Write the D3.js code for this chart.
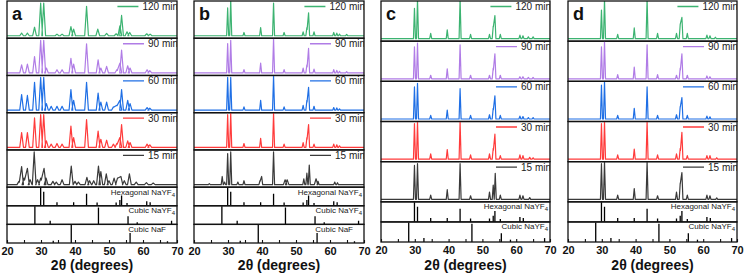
<!DOCTYPE html>
<html>
<head>
<meta charset="utf-8">
<script src="https://cdn.jsdelivr.net/npm/d3@7"></script>
<style>
  body { margin: 0; background: #fff; }
  svg { display: block; }
  text { font-family: Arial, "Liberation Sans", sans-serif; }
</style>
</head>
<body>
<svg id="chart" width="744" height="273"></svg>
<script>
// ---- data ----
var times = ["120 min", "90 min", "60 min", "30 min", "15 min"];
var colors = ["#3cb371", "#b07ce6", "#1f6fe5", "#ff3b3b", "#3a3a3a"];
var xTicks = [20, 25, 30, 35, 40, 45, 50, 55, 60, 65, 70];

// reference patterns: [2theta, relative intensity]
var hexRef = [[29.9, 1.0], [30.8, 0.78], [34.7, 0.2], [39.6, 0.2], [43.4, 0.67], [46.5, 0.18],
  [52.1, 0.18], [53.2, 0.32], [53.7, 0.56], [55.3, 0.15], [61.1, 0.25], [62.1, 0.2]];
var cubicRef = [[28.2, 1.0], [32.7, 0.2], [46.9, 0.93], [55.6, 0.45], [58.3, 0.12], [68.4, 0.2]];
var nafRef = [[33.6, 0.12], [38.9, 1.0], [56.2, 0.55], [67.2, 0.1]];

// measured patterns: [2theta, relative height, (half width)]
var a120 = [[24.3, 0.08], [26.0, 0.08], [28.1, 0.26], [29.9, 1.0], [30.8, 1.0], [34.7, 0.05], [36.2, 0.05],
  [38.8, 0.28], [39.6, 0.2], [43.4, 0.9], [46.7, 0.2], [49.3, 0.07], [52.1, 0.06], [53.2, 0.3], [53.7, 0.62],
  [55.3, 0.12], [56.1, 0.1], [61.1, 0.06], [62.1, 0.05]];
var a90 = [[24.3, 0.25], [26.0, 0.27], [28.1, 0.5], [29.9, 1.0], [30.8, 1.0], [31.6, 0.15], [34.7, 0.1],
  [36.2, 0.1], [38.8, 0.45], [39.6, 0.27], [43.4, 0.89], [46.8, 0.4], [47.6, 0.15], [49.3, 0.2], [52.3, 0.1],
  [53.2, 0.3], [53.7, 0.7], [55.5, 0.22], [56.2, 0.15], [61.2, 0.1], [62.0, 0.07]];
var a60 = [[24.3, 0.48], [26.0, 0.45], [28.1, 0.85], [29.9, 1.0], [30.8, 1.0], [31.6, 0.2], [33.0, 0.12],
  [34.7, 0.12], [36.2, 0.12], [38.8, 0.63], [39.6, 0.3], [43.4, 0.85], [46.8, 0.52], [47.6, 0.25],
  [49.3, 0.25], [51.3, 0.1], [52.3, 0.15], [53.2, 0.3], [53.7, 0.63], [55.5, 0.3], [56.2, 0.2],
  [61.2, 0.08], [62.0, 0.06]];
var a30 = [[24.3, 0.45], [26.0, 0.45], [28.1, 0.9], [29.9, 1.0], [30.8, 1.0], [31.6, 0.2], [33.0, 0.1],
  [34.7, 0.12], [36.2, 0.1], [38.8, 0.65], [39.6, 0.3], [43.4, 0.85], [46.8, 0.5], [47.6, 0.25],
  [49.3, 0.22], [51.3, 0.1], [52.3, 0.12], [53.2, 0.3], [53.7, 0.7], [55.5, 0.2], [56.2, 0.15],
  [61.2, 0.1], [62.0, 0.08]];
var a15 = [[23.5, 0.1], [24.3, 0.55], [25.0, 0.2], [26.0, 0.5], [26.8, 0.15], [28.0, 1.0], [29.0, 0.15],
  [29.9, 0.2], [30.9, 0.5], [31.5, 0.2], [33.5, 0.1], [34.5, 0.08], [36.2, 0.15], [38.9, 0.57], [40.0, 0.1],
  [41.0, 0.08], [43.5, 0.22], [44.3, 0.12], [45.5, 0.12], [46.9, 0.57], [47.6, 0.4], [49.2, 0.33],
  [50.0, 0.12], [51.5, 0.2], [52.5, 0.2], [53.5, 0.25], [54.5, 0.12], [56.0, 0.33], [58.0, 0.08],
  [61.0, 0.06], [63.0, 0.05]];

var b120 = [[29.9, 0.85], [30.8, 1.1], [34.7, 0.1], [39.6, 0.25], [43.4, 1.0], [46.5, 0.1], [52.1, 0.12],
  [53.2, 0.25], [53.7, 0.7], [55.3, 0.12], [61.1, 0.1], [62.0, 0.08], [62.8, 0.05], [64.9, 0.04]];
var b90 = [[29.9, 0.9], [30.8, 1.0], [34.7, 0.1], [39.6, 0.3], [43.4, 1.05], [46.5, 0.1], [52.1, 0.15],
  [53.2, 0.25], [53.7, 0.75], [55.3, 0.12], [61.1, 0.1], [62.0, 0.08], [62.8, 0.05], [64.9, 0.04]];
var b60 = [[29.9, 1.0], [30.8, 1.0], [34.7, 0.1], [39.6, 0.3], [43.4, 1.05], [46.5, 0.1], [52.1, 0.15],
  [53.2, 0.3], [53.7, 0.7], [55.3, 0.12], [61.1, 0.08], [62.0, 0.07], [62.8, 0.04]];
var b30 = [[29.9, 1.0], [30.8, 1.05], [34.7, 0.12], [39.6, 0.28], [43.4, 1.05], [46.5, 0.1], [52.1, 0.15],
  [53.2, 0.3], [53.7, 0.7], [55.3, 0.1], [61.1, 0.1], [62.0, 0.08], [62.8, 0.05]];
var b15 = [[24.5, 0.03], [28.3, 0.25], [29.0, 0.08], [29.9, 0.95], [30.8, 1.0], [32.9, 0.08], [34.7, 0.12],
  [39.4, 0.12], [39.9, 0.25], [43.4, 1.0], [46.8, 0.15, 0.5], [47.4, 0.15, 0.5], [52.3, 0.18], [53.2, 0.35],
  [53.9, 0.6], [55.9, 0.18, 0.5], [56.5, 0.1], [61.4, 0.08], [62.2, 0.06]];

var c120 = [[29.9, 0.85], [30.8, 1.1], [34.7, 0.15], [39.6, 0.25], [43.4, 1.1], [46.5, 0.12], [52.1, 0.12],
  [53.2, 0.35], [53.7, 0.65], [55.3, 0.12], [61.1, 0.1], [62.0, 0.08], [63.6, 0.05], [65.0, 0.05]];
var c90 = [[29.9, 0.9], [30.8, 1.0], [34.7, 0.1], [39.6, 0.28], [43.4, 0.95], [46.5, 0.1], [52.1, 0.1],
  [53.2, 0.3], [53.7, 0.7], [55.3, 0.1], [61.1, 0.06], [62.0, 0.06], [63.6, 0.04], [65.0, 0.04]];
var c60 = [[29.9, 0.9], [30.8, 1.0], [34.7, 0.1], [39.6, 0.25], [43.4, 0.85], [46.5, 0.1], [52.1, 0.12],
  [53.2, 0.3], [53.7, 0.65], [55.3, 0.1], [61.1, 0.08], [62.0, 0.07], [63.6, 0.04], [65.0, 0.04]];
var c30 = [[29.9, 1.0], [30.8, 1.05], [34.7, 0.15], [39.6, 0.27], [43.4, 1.05], [46.5, 0.12], [52.1, 0.15],
  [53.2, 0.3], [53.7, 0.7], [55.3, 0.1], [61.1, 0.12], [62.0, 0.1], [64.0, 0.05], [65.0, 0.04]];
var c15 = [[29.9, 0.95], [30.8, 1.0], [34.7, 0.12], [39.6, 0.27], [43.4, 1.0], [46.5, 0.1], [52.1, 0.2],
  [53.2, 0.4], [53.8, 0.73], [55.3, 0.12], [61.1, 0.12], [62.0, 0.1], [64.0, 0.05]];

var d120 = [[29.9, 0.8], [30.8, 1.1], [34.7, 0.12], [39.6, 0.3], [43.4, 1.1], [46.5, 0.15], [52.1, 0.15],
  [53.2, 0.4], [53.7, 0.6], [55.3, 0.15], [61.1, 0.1], [62.0, 0.08], [63.6, 0.04]];
var d90 = [[29.9, 0.9], [30.8, 1.05], [34.7, 0.12], [39.6, 0.33], [43.4, 0.95], [46.5, 0.12], [52.1, 0.1],
  [53.2, 0.3], [53.7, 0.7], [55.3, 0.1], [61.1, 0.08], [62.0, 0.06]];
var d60 = [[29.9, 0.95], [30.8, 1.05], [34.7, 0.1], [39.6, 0.3], [43.4, 0.9], [46.5, 0.1], [52.1, 0.12],
  [53.2, 0.35], [53.7, 0.6], [55.3, 0.1], [61.1, 0.08], [62.0, 0.06]];
var d30 = [[29.9, 1.0], [30.8, 1.05], [34.7, 0.12], [39.6, 0.28], [43.4, 1.05], [46.5, 0.12], [52.1, 0.15],
  [53.2, 0.3], [53.7, 0.75], [55.3, 0.1], [61.1, 0.1], [62.0, 0.1], [64.0, 0.04]];
var d15 = [[29.9, 1.0], [30.8, 1.05], [34.7, 0.12], [39.6, 0.3], [43.4, 1.05], [46.5, 0.1], [52.1, 0.2],
  [53.2, 0.45], [53.7, 0.75], [55.3, 0.12], [61.1, 0.12], [62.0, 0.1], [64.0, 0.04]];

// ---- layout ----
var panels = [
  { letter: "a", x0: 7, x1: 177, bottom: 243, pats: [a120, a90, a60, a30, a15], refs: [hexRef, cubicRef, nafRef], hw: 0.55 },
  { letter: "b", x0: 194, x1: 364, bottom: 243, pats: [b120, b90, b60, b30, b15], refs: [hexRef, cubicRef, nafRef], hw: 0.3 },
  { letter: "c", x0: 381, x1: 550, bottom: 242, pats: [c120, c90, c60, c30, c15], refs: [hexRef, cubicRef], hw: 0.3 },
  { letter: "d", x0: 568, x1: 737, bottom: 242, pats: [d120, d90, d60, d30, d15], refs: [hexRef, cubicRef], hw: 0.3 }
];
var refLabels = [["Hexagonal NaYF", "4"], ["Cubic NaYF", "4"], ["Cubic NaF", ""]];
var top0 = 1;

var svg = d3.select("#chart");
var defs = svg.append("defs");

// outline of triangular peaks; where two peaks overlap the line meets at the crossing of their flanks
function profile(peaks, hw) {
  var pk = peaks.slice().sort(function(a, b) { return a[0] - b[0]; });
  var pts = [[20, 0]];
  var prevFoot = null;
  pk.forEach(function(p, k) {
    var w = p[2] || hw;
    var left = [p[0] - w, 0];
    if (prevFoot) {
      var q = pk[k - 1], wq = q[2] || hw;
      if (prevFoot[0] > left[0]) {
        // right flank of q meets left flank of p
        var s1 = -q[1] / wq, s2 = p[1] / w;
        var xi = (s2 * left[0] - q[1] - s1 * q[0]) / (s2 - s1);
        if (xi > q[0] && xi < p[0]) pts.push([xi, q[1] + s1 * (xi - q[0])]);
        else pts.push(prevFoot, left);
      } else {
        pts.push(prevFoot, left);
      }
    } else {
      pts.push(left);
    }
    pts.push([p[0], p[1]]);
    prevFoot = [p[0] + w, 0];
  });
  pts.push(prevFoot, [70, 0]);
  return pts;
}

panels.forEach(function(P, pi) {
  var g = svg.append("g");
  var nRef = P.refs.length;
  var u = (P.bottom - top0) / (10 + nRef);
  var x = d3.scaleLinear().domain([20, 70]).range([P.x0, P.x1]);

  var rows = [];
  for (var i = 0; i < 5; i++) rows.push({ t: top0 + 2 * u * i, b: top0 + 2 * u * (i + 1), kind: "pat", i: i });
  for (var j = 0; j < nRef; j++) rows.push({ t: top0 + 10 * u + u * j, b: top0 + 10 * u + u * (j + 1), kind: "ref", i: j });

  rows.forEach(function(r, ri) {
    var cid = "clip" + pi + "_" + ri;
    defs.append("clipPath").attr("id", cid)
      .append("rect").attr("x", P.x0).attr("y", r.t).attr("width", P.x1 - P.x0).attr("height", r.b - r.t);
    var rg = g.append("g").attr("clip-path", "url(#" + cid + ")");

    if (r.kind === "pat") {
      var y = d3.scaleLinear().domain([0, 1]).range([r.b - 2.5, r.t + 2]);
      var line = d3.line().x(function(d) { return x(d[0]); }).y(function(d) { return y(d[1]); });
      rg.append("path")
        .datum(profile(P.pats[r.i], P.hw))
        .attr("d", line)
        .attr("fill", "none")
        .attr("stroke", colors[r.i])
        .attr("stroke-width", 1.2)
        .attr("stroke-linejoin", "round");

      // legend
      var lt = rg.append("text")
        .attr("x", P.x1 + 1)
        .attr("y", r.t + 9)
        .attr("text-anchor", "end")
        .style("font-size", "10px")
        .attr("fill", "#222")
        .text(times[r.i]);
      var tx = P.x1 + 1 - lt.node().getComputedTextLength();
      rg.append("line")
        .attr("x1", tx - 25).attr("x2", tx - 4)
        .attr("y1", r.t + 5.5).attr("y2", r.t + 5.5)
        .attr("stroke", colors[r.i]).attr("stroke-width", 1.3);
    } else {
      var ys = d3.scaleLinear().domain([0, 1]).range([r.b, r.t + 0.5]);
      rg.selectAll("line.stick")
        .data(P.refs[r.i])
        .enter().append("line")
        .attr("class", "stick")
        .attr("x1", function(d) { return x(d[0]); })
        .attr("x2", function(d) { return x(d[0]); })
        .attr("y1", ys(0))
        .attr("y2", function(d) { return ys(d[1]); })
        .attr("stroke", "#000")
        .attr("stroke-width", 1.3);

      var lab = rg.append("text")
        .attr("x", r.i === 2 ? P.x1 - 11 : P.x1 - 2)
        .attr("y", r.t + 7.5)
        .attr("text-anchor", "end")
        .style("font-size", "8px")
        .attr("fill", "#222");
      lab.append("tspan").text(refLabels[r.i][0]);
      if (refLabels[r.i][1]) {
        lab.append("tspan").attr("dy", 2).style("font-size", "6px").text(refLabels[r.i][1]);
      }
    }

    g.append("rect")
      .attr("x", P.x0).attr("y", r.t)
      .attr("width", P.x1 - P.x0).attr("height", r.b - r.t)
      .attr("fill", "none")
      .attr("stroke", "#111")
      .attr("stroke-width", 1.3);
  });

  // x axis
  var ax = g.append("g")
    .attr("transform", "translate(0," + P.bottom + ")")
    .call(d3.axisBottom(x)
      .tickValues(xTicks)
      .tickSize(-3)
      .tickPadding(4)
      .tickFormat(function(d) { return d % 10 === 0 ? d : ""; }));
  ax.select(".domain").remove();
  ax.selectAll(".tick line").attr("stroke", "#111").attr("stroke-width", 1.1);
  ax.selectAll(".tick text")
    .style("font-family", "Arial, 'Liberation Sans', sans-serif")
    .style("font-size", "11px")
    .style("font-weight", "bold")
    .attr("fill", "#111");

  g.append("text")
    .attr("x", (P.x0 + P.x1) / 2)
    .attr("y", 270)
    .attr("text-anchor", "middle")
    .style("font-size", "14px")
    .style("font-weight", "bold")
    .attr("fill", "#111")
    .text("2\u03b8 (degrees)");

  g.append("text")
    .attr("x", P.x0 + 5)
    .attr("y", 20)
    .style("font-size", "18px")
    .style("font-weight", "bold")
    .attr("fill", "#111")
    .text(P.letter);
});
</script>
</body>
</html>
